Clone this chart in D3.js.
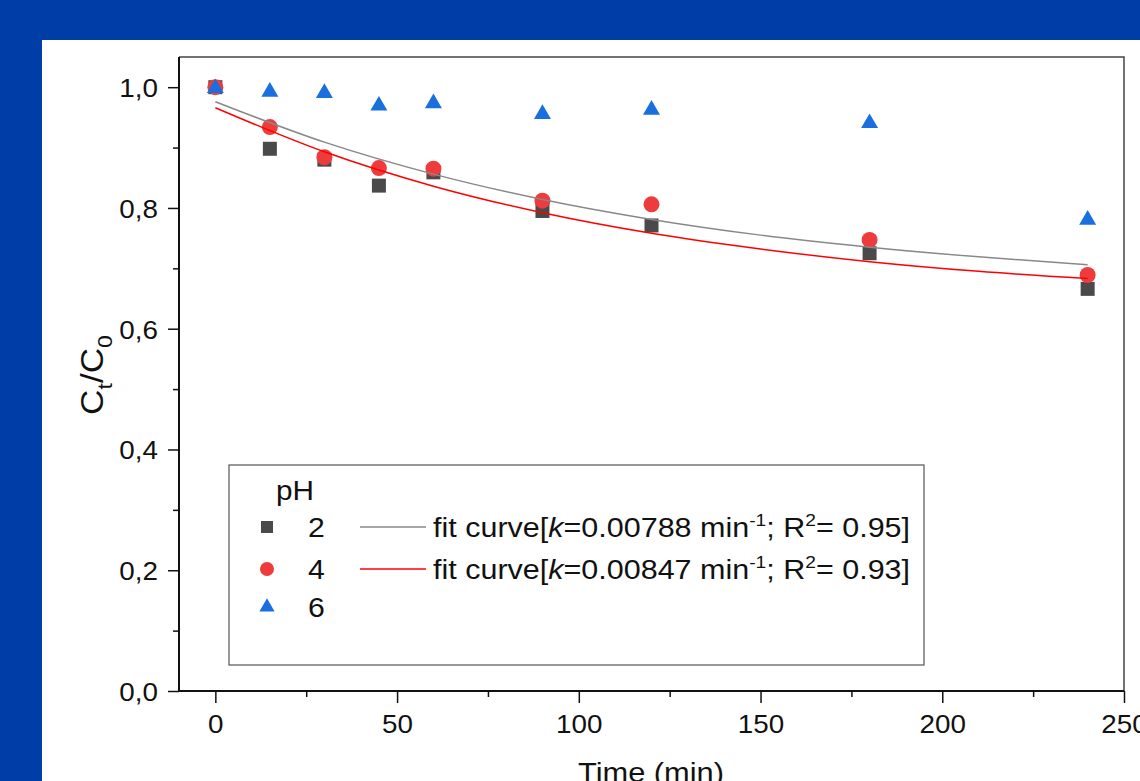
<!DOCTYPE html>
<html><head><meta charset="utf-8">
<script src="https://cdn.jsdelivr.net/npm/d3@7"></script>
<style>
html,body{margin:0;padding:0;background:#003da6;}
svg{display:block;}
text{font-family:"Liberation Sans",Arial,sans-serif;fill:#111;}
</style></head>
<body><svg id="c" width="1140" height="781"></svg>
<script>
// Data
const times = [0, 15, 30, 45, 60, 90, 120, 180, 240];
const pH2 = [1.000, 0.898, 0.880, 0.837, 0.859, 0.795, 0.771, 0.725, 0.666];
const pH4 = [1.000, 0.934, 0.884, 0.866, 0.865, 0.812, 0.806, 0.747, 0.689];
const pH6 = [1.000, 0.994, 0.992, 0.971, 0.975, 0.957, 0.964, 0.942, 0.782];
const fitTimes = [0, 30, 60, 90, 120, 150, 180, 210, 240];
const fit2 = [0.976, 0.909, 0.856, 0.814, 0.781, 0.755, 0.735, 0.719, 0.706];
const fit4 = [0.966, 0.893, 0.836, 0.792, 0.758, 0.732, 0.711, 0.695, 0.683];
const xTicks = [0, 50, 100, 150, 200, 250];
const xMinor = [25, 75, 125, 175, 225];
const yTicks = [0, 0.2, 0.4, 0.6, 0.8, 1.0];
const yMinor = [0.1, 0.3, 0.5, 0.7, 0.9];
const legendTitle = "pH";
const legendLabels = ["2", "4", "6"];
const fitLabels = [["0.00788", "0.95"], ["0.00847", "0.93"]];

const svg = d3.select("#c");
svg.append("rect").attr("x",42).attr("y",40).attr("width",1098).attr("height",741).attr("fill","#fff");

const x = d3.scaleLinear().domain([-10, 250]).range([179, 1124]);
const y = d3.scaleLinear().domain([0, 1.05]).range([691, 57]);

function txt(parent, px, py, size, sx, anchor){
  return parent.append("text").attr("transform",`translate(${px},${py}) scale(${sx},1)`)
    .attr("font-size",size).attr("text-anchor",anchor||"start");
}

// frame top/right
svg.append("path").attr("d",`M179,57H1124V691`).attr("fill","none").attr("stroke","#444").attr("stroke-width",1.5);

// markers
const colSq="#4a4a4a", colCi="#ee3b3b", colTr="#1a6fdf";
const g = svg.append("g");
g.selectAll(".sq").data(times).join("rect")
  .attr("x",(d)=>x(d)-7).attr("y",(d,i)=>y(pH2[i])-7).attr("width",14).attr("height",14).attr("fill",colSq);
g.selectAll(".ci").data(times).join("circle")
  .attr("cx",d=>x(d)).attr("cy",(d,i)=>y(pH4[i])).attr("r",8).attr("fill",colCi);
const tri = d3.symbol().type(d3.symbolTriangle).size(125);
g.selectAll(".tr").data(times).join("path")
  .attr("d",tri).attr("transform",(d,i)=>`translate(${x(d)},${y(pH6[i])+1})`).attr("fill",colTr);

// fit curves
const line = (arr)=>d3.line().x((d)=>x(d)).y((d,i)=>y(arr[i])).curve(d3.curveMonotoneX)(fitTimes);
svg.append("path").attr("d",line(fit2)).attr("fill","none").attr("stroke","#888").attr("stroke-width",1.5);
svg.append("path").attr("d",line(fit4)).attr("fill","none").attr("stroke","#ff0000").attr("stroke-width",1.5);

// axes
const xa = svg.append("g").attr("transform","translate(0,691)");
xa.call(d3.axisBottom(x).tickValues(xTicks).tickSize(12).tickFormat(d3.format("d")));
xa.append("g").call(d3.axisBottom(x).tickValues(xMinor).tickSize(6).tickFormat(""));
const ya = svg.append("g").attr("transform","translate(179,0)");
ya.call(d3.axisLeft(y).tickValues(yTicks).tickSize(11).tickFormat(d=>d3.format(".1f")(d).replace(".",",")));
ya.append("g").call(d3.axisLeft(y).tickValues(yMinor).tickSize(6).tickFormat(""));
svg.selectAll(".domain").remove();
svg.selectAll(".tick line").attr("stroke","#111").attr("stroke-width",1.5);
xa.selectAll(".tick text").attr("font-size",26).attr("dy",null).attr("y",0)
  .attr("transform","translate(0,42) scale(1.07,1)").attr("fill","#111").attr("font-family","Liberation Sans, Arial");
ya.selectAll(".tick text").attr("font-size",26).attr("x",0).attr("dy","0.36em")
  .attr("transform","translate(-21,0) scale(1.07,1)").attr("fill","#111").attr("font-family","Liberation Sans, Arial");
svg.append("path").attr("d","M179,57V691H1124").attr("fill","none").attr("stroke","#111").attr("stroke-width",2);

// axis titles
txt(svg, 651, 782, 28, 1.1, "middle").text("Time (min)");
const yt = svg.append("text").attr("transform","translate(103,375) rotate(-90) scale(1.1,1)").attr("text-anchor","middle").attr("font-size",32);
yt.append("tspan").text("C");
yt.append("tspan").attr("font-size",21).attr("dy",9).text("t");
yt.append("tspan").attr("dy",-9).text("/C");
yt.append("tspan").attr("font-size",21).attr("dy",9).text("0");

// legend
svg.append("rect").attr("x",229).attr("y",465).attr("width",695).attr("height",200).attr("fill","#fff").attr("stroke","#555").attr("stroke-width",1.2);
txt(svg, 276, 500, 27, 1.1).text(legendTitle);
const rowsY=[527,569,607];
svg.append("rect").attr("x",261).attr("y",rowsY[0]-6).attr("width",12).attr("height",12).attr("fill",colSq);
svg.append("circle").attr("cx",267).attr("cy",rowsY[1]).attr("r",7).attr("fill",colCi);
svg.append("path").attr("d",d3.symbol().type(d3.symbolTriangle).size(100)).attr("transform",`translate(267,${rowsY[2]})`).attr("fill",colTr);
legendLabels.forEach((l,i)=>{
  txt(svg, 308, rowsY[i]+10, 27, 1.12).text(l);
});
const fitCols=["#888","#ff0000"];
fitLabels.forEach((f,i)=>{
  const yy=rowsY[i];
  svg.append("line").attr("x1",360).attr("x2",426).attr("y1",yy).attr("y2",yy).attr("stroke",fitCols[i]).attr("stroke-width",1.5);
  const t=txt(svg, 433, yy+10, 27, 1.13);
  t.append("tspan").text("fit curve[");
  t.append("tspan").attr("font-style","italic").text("k");
  t.append("tspan").text("="+f[0]+" min");
  t.append("tspan").attr("font-size",17).attr("dy",-11).text("-1");
  t.append("tspan").attr("dy",11).text("; R");
  t.append("tspan").attr("font-size",17).attr("dy",-11).text("2");
  t.append("tspan").attr("dy",11).text("= "+f[1]+"]");
});
</script></body></html>
